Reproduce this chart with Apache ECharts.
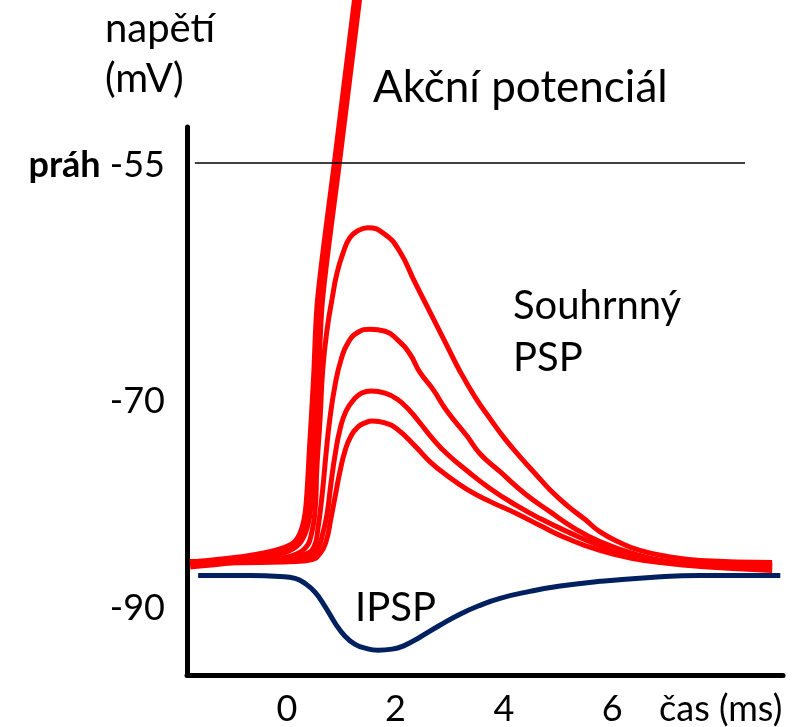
<!DOCTYPE html>
<html>
<head>
<meta charset="utf-8">
<script src="https://cdn.jsdelivr.net/npm/echarts@6/dist/echarts.min.js"></script>
<style>
html,body{margin:0;padding:0;background:#fff;}
#c{width:802px;height:727px;}
</style>
</head>
<body>
<div id="c"></div>
<script>
// time (ms) axis
var xLabelAt = [0, 2, 4, 6, 8];
var xLabelText = ['0', '2', '4', '6', 'čas (ms)'];
// voltage axis (schematic, labels placed as in the figure)
var yLabelAt = [-90.5, -74.0, -55.2];
var yLabelText = ['-90', '-70', '{b|práh} -55'];
var threshold = -55;

// Action potential (thick red)
var apData = [[-1.79,-87.0],[-0.74,-86.5],[-0.13,-85.95],[0.15,-85.40],[0.30,-84.37],[0.39,-82.54],[0.46,-77.78],[0.535,-72.22],[0.61,-65.87],[0.92,-55.0],[1.29,-42.06],[1.38,-38.89]];
// Summed PSPs (red)
var psp1 = [[-1.79,-86.75],[-1.05,-86.75],[-0.50,-86.67],[-0.13,-86.51],[0.15,-86.19],[0.33,-85.71],[0.44,-84.76],[0.52,-82.54],[0.55,-79.37],[0.61,-75.40],[0.66,-71.43],[0.74,-68.25],[0.83,-65.87],[0.92,-63.81],[1.03,-62.22],[1.16,-60.95],[1.31,-60.40],[1.49,-60.16],[1.81,-60.71],[2.08,-62.06],[2.36,-64.52],[2.64,-66.90],[2.92,-69.29],[3.19,-71.59],[3.47,-73.65],[3.75,-75.40],[4.02,-76.98],[4.30,-78.41],[4.58,-79.76],[4.85,-81.03],[5.17,-82.30],[5.50,-83.41],[5.77,-84.37],[6.14,-85.24],[6.51,-85.87],[7.01,-86.35],[7.62,-86.67],[8.95,-86.83]];
var psp2 = [[-1.79,-86.75],[-0.50,-86.67],[0.06,-86.43],[0.33,-86.19],[0.50,-85.56],[0.57,-84.13],[0.65,-81.35],[0.72,-78.17],[0.79,-75.40],[0.89,-72.62],[1.00,-70.63],[1.13,-69.29],[1.31,-68.49],[1.53,-68.25],[1.81,-68.41],[2.03,-69.05],[2.27,-70.24],[2.45,-71.67],[2.69,-73.02],[2.95,-74.76],[3.32,-76.75],[3.56,-78.17],[3.93,-79.60],[4.39,-81.35],[4.85,-82.78],[5.31,-84.13],[5.77,-85.16],[6.38,-86.11],[7.01,-86.75],[7.62,-86.98],[8.95,-87.06]];
var psp3 = [[-1.79,-86.83],[-0.50,-86.75],[0.15,-86.59],[0.42,-86.35],[0.57,-85.71],[0.66,-84.52],[0.74,-82.94],[0.81,-80.56],[0.89,-78.17],[0.98,-76.19],[1.09,-74.76],[1.24,-73.81],[1.38,-73.33],[1.55,-73.17],[1.81,-73.33],[2.03,-73.81],[2.27,-74.76],[2.45,-75.70],[2.69,-76.98],[2.95,-78.17],[3.32,-79.52],[3.75,-80.95],[4.24,-82.30],[4.67,-83.33],[5.17,-84.37],[5.77,-85.48],[6.38,-86.27],[7.01,-86.75],[7.62,-87.06],[8.95,-87.14]];
var psp4 = [[-1.79,-86.90],[-0.50,-86.83],[0.15,-86.75],[0.46,-86.59],[0.61,-86.11],[0.72,-85.16],[0.81,-83.33],[0.89,-81.51],[0.98,-79.52],[1.07,-77.94],[1.18,-76.75],[1.31,-76.03],[1.44,-75.71],[1.57,-75.56],[1.81,-75.71],[2.03,-76.19],[2.36,-77.54],[2.64,-78.81],[2.95,-79.90],[3.32,-81.0],[3.75,-81.98],[4.24,-82.94],[4.67,-83.89],[5.17,-84.92],[5.77,-85.87],[6.38,-86.51],[7.01,-86.90],[7.62,-87.14],[8.95,-87.46]];
// IPSP (navy)
var ipsp = [[-1.64,-87.86],[-0.68,-87.86],[-0.13,-87.94],[0.15,-88.10],[0.33,-88.49],[0.52,-89.21],[0.70,-90.32],[0.89,-91.67],[1.07,-92.70],[1.25,-93.33],[1.44,-93.65],[1.68,-93.81],[1.94,-93.73],[2.18,-93.41],[2.45,-92.78],[2.82,-91.83],[3.19,-90.95],[3.56,-90.24],[3.93,-89.68],[4.48,-89.13],[5.04,-88.70],[5.77,-88.33],[6.70,-88.02],[7.62,-87.86],[9.10,-87.86]];
// threshold line span and pointer line
var thresholdSpan = [-1.7, 8.45];
var pointerLine = [[-5.30,-84.92],[-2.07,-80.16]];

var FONT = 'Lato, "Open Sans", sans-serif';
var chart = echarts.init(document.getElementById('c'), null, {renderer:'canvas'});

function curve(name, data, color, w, sm){
  return {name:name, type:'line', data:data, smooth:sm, showSymbol:false, symbol:'none',
    clip:false, lineStyle:{color:color, width:w, join:'round', cap:'butt'}, z:3};
}

chart.setOption({
  animation:false,
  backgroundColor:'#ffffff',
  grid:{left:187, right:19, top:127, bottom:50},
  xAxis:{type:'value', min:-1.845, max:9.15,
    axisLine:{show:true, onZero:false, lineStyle:{color:'#000', width:5}},
    axisTick:{show:false}, splitLine:{show:false},
    axisLabel:{customValues:xLabelAt, margin:16, color:'#000', fontFamily:FONT, fontSize:36,
      formatter:function(v){ var i = xLabelAt.indexOf(v); return i>=0 ? xLabelText[i] : ''; }}
  },
  yAxis:{type:'value', min:-95.79, max:-52.14,
    axisLine:{show:true, onZero:false, lineStyle:{color:'#000', width:5}},
    axisTick:{show:false}, splitLine:{show:false},
    axisLabel:{customValues:yLabelAt, margin:22, color:'#000', fontFamily:FONT, fontSize:36,
      formatter:function(v){ var i = yLabelAt.indexOf(v); return i>=0 ? yLabelText[i] : ''; },
      rich:{b:{fontWeight:'bold', fontFamily:FONT, fontSize:36, color:'#000'}}}
  },
  graphic:[
    {type:'text', x:105, y:4, style:{text:'napětí\n(mV)', font:'40px '+FONT, lineHeight:50, fill:'#000'}},
    {type:'text', x:373, y:88, style:{text:'Akční potenciál', font:'44px '+FONT, fill:'#000', textVerticalAlign:'middle'}},
    {type:'text', x:513, y:280, style:{text:'Souhrnný\nPSP', font:'40px '+FONT, lineHeight:52, fill:'#000'}},
    {type:'text', x:355, y:608, style:{text:'IPSP', font:'40px '+FONT, fill:'#000', textVerticalAlign:'middle'}}
  ],
  series:[
    curve('IPSP', ipsp, '#002060', 5, 0.5),
    curve('PSP4', psp4, '#ff0000', 5, 0.5),
    curve('PSP3', psp3, '#ff0000', 5, 0.5),
    curve('PSP2', psp2, '#ff0000', 5, 0.5),
    curve('PSP1', psp1, '#ff0000', 5, 0.5),
    curve('AP', apData, '#ff0000', 10, 0.3),
    {name:'práh', type:'line', data:[[thresholdSpan[0],threshold],[thresholdSpan[1],threshold]], showSymbol:false, symbol:'none',
      lineStyle:{color:'#000', width:1.5}, z:5},
    {name:'pointer', type:'line', data:pointerLine, showSymbol:false, symbol:'none', clip:false,
      lineStyle:{color:'#000', width:3}, z:5}
  ]
});
</script>
</body>
</html>
